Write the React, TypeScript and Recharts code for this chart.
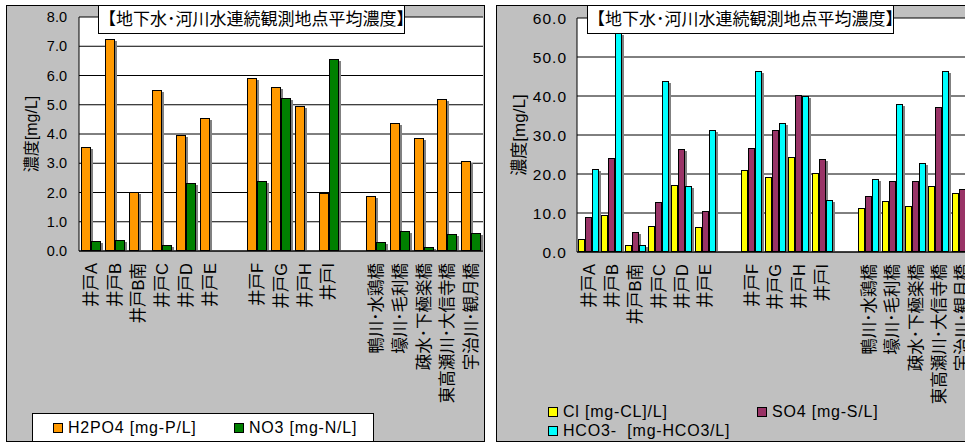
import React from 'react';
import { BarChart, Bar, XAxis, YAxis, CartesianGrid } from 'recharts';

const categories = [
  '井戸A', '井戸B', '井戸B南', '井戸C', '井戸D', '井戸E', '',
  '井戸F', '井戸G', '井戸H', '井戸I', '',
  '鴨川･水鶏橋', '壕川･毛利橋', '疎水･下極楽橋', '東高瀬川･大信寺橋', '宇治川･観月橋',
];

// left chart
const h2po4 = [3.55, 7.25, 2.03, 5.52, 3.97, 4.54, null, 5.93, 5.62, 4.97, 1.97, null, 1.87, 4.37, 3.87, 5.21, 3.06];
const no3 = [0.34, 0.37, null, 0.21, 2.33, 0.05, null, 2.39, 5.22, null, 6.55, null, 0.3, 0.7, 0.15, 0.57, 0.61];
const leftTicks = [0, 1, 2, 3, 4, 5, 6, 7, 8];

// right chart
const cl = [3.3, 9.4, 1.9, 6.7, 17.3, 6.3, null, 21.1, 19.2, 24.4, 20.3, null, 11.2, 13.2, 11.7, 17.0, 15.1];
const so4 = [9.1, 24.2, 5.2, 12.9, 26.3, 10.4, null, 26.7, 31.3, 40.3, 23.8, null, 14.3, 18.1, 18.1, 37.1, 16.1];
const hco3 = [21.2, 56.1, 1.9, 43.8, 17.0, 31.3, null, 46.4, 33.0, 40.1, 13.3, null, 18.6, 37.9, 22.7, 46.4, 25.0];
const rightTicks = [0, 10, 20, 30, 40, 50, 60];

const leftSeries = [
  { key: 'h2po4', name: 'H2PO4 [mg-P/L]', color: '#FF9900' },
  { key: 'no3', name: 'NO3 [mg-N/L]', color: '#008000' },
];
const rightSeries = [
  { key: 'cl', name: 'Cl [mg-CL]/L]', color: '#FFFF00' },
  { key: 'so4', name: 'SO4 [mg-S/L]', color: '#993366' },
  { key: 'hco3', name: 'HCO3-  [mg-HCO3/L]', color: '#00FFFF' },
];

const leftData = categories.map((name, i) => ({ name, h2po4: h2po4[i], no3: no3[i] }));
const rightData = categories.map((name, i) => ({ name, cl: cl[i], so4: so4[i], hco3: hco3[i] }));

const FONT = "'Liberation Sans', Arial, 'Noto Sans CJK JP', sans-serif";
const TITLE = '【地下水･河川水連続観測地点平均濃度】';
const Y_LABEL = '濃度[mg/L]';

const ShadowBar = (props: any) => {
  const { x, y, width, height, fill } = props;
  if (height == null || height <= 0 || isNaN(y)) return null;
  const x0 = Math.round(x);
  const y0 = Math.round(y);
  const w = Math.round(width);
  const h = Math.round(y + height) - y0;
  return (
    <g>
      <rect x={x0 + 2} y={y0 + 2} width={w} height={h - 2} fill="#808080" />
      <rect x={x0 + 0.5} y={y0 + 0.5} width={w - 1} height={h - 1} fill={fill} stroke="#000" strokeWidth={1} />
    </g>
  );
};

const CategoryTick = (props: any) => {
  const { x, y, payload } = props;
  const ty = y + 12;
  return (
    <text x={x} y={ty} transform={`rotate(-90, ${x}, ${ty})`} textAnchor="end" dy="0.36em"
      fontSize={16.5} fontFamily={FONT} fill="#000">
      {payload.value}
    </text>
  );
};

const yLabel = (cx: number, size: number) => (props: any) => {
  const { viewBox } = props;
  const cy = viewBox.y + viewBox.height / 2;
  return (
    <text x={cx} y={cy} transform={`rotate(-90, ${cx}, ${cy})`} textAnchor="middle" dy="0.36em"
      fontSize={size} fontFamily={FONT} fill="#000">
      {Y_LABEL}
    </text>
  );
};

const Panel = ({ left, width, children }: any) => (
  <div style={{
    position: 'absolute', left, top: 5, width, height: 437, boxSizing: 'border-box',
    border: '1px solid #000', background: '#C0C0C0', overflow: 'hidden',
  }}>
    {children}
  </div>
);

const TitleBox = ({ left }: { left: number }) => (
  <div style={{
    position: 'absolute', left, top: -1, width: 307, height: 29, boxSizing: 'border-box',
    border: '1px solid #000', background: '#fff', fontFamily: FONT, fontSize: 17,
    lineHeight: '27px', textAlign: 'center', whiteSpace: 'nowrap', zIndex: 2,
  }}>
    {TITLE}
  </div>
);

const LegendItem = ({ left, top, color, text }: any) => (
  <div style={{ position: 'absolute', left, top, height: 18, display: 'flex', alignItems: 'center', whiteSpace: 'pre' }}>
    <span style={{ width: 8, height: 8, border: '1px solid #000', background: color, marginRight: 5 }} />
    <span style={{ fontFamily: FONT, fontSize: 16, letterSpacing: 0.8, color: '#000' }}>{text}</span>
  </div>
);

const App = () => {
  return (
    <div style={{ position: 'absolute', left: 0, top: 0, width: 965, height: 443, overflow: 'hidden', background: '#fff' }}>
      <Panel left={6} width={479}>
        <BarChart width={477} height={435} data={leftData} barGap={0}
          margin={{ top: 11, right: 1, bottom: 0, left: 0 }}>
          <CartesianGrid vertical={false} stroke="#000" fill="#fff" />
          <XAxis dataKey="name" height={190} interval={0} tickSize={0} tickMargin={0}
            tick={<CategoryTick />} axisLine={{ stroke: '#000' }} tickLine={false} />
          <YAxis width={72} domain={[0, 8]} ticks={leftTicks} interval={0} tickLine={false}
            tickSize={0} tickMargin={12} axisLine={{ stroke: '#000' }}
            tickFormatter={(v: number) => v.toFixed(1)}
            tick={{ fontSize: 14.5, fill: '#000', fontFamily: FONT }}
            label={{ content: yLabel(24, 16) }} />
          {leftSeries.map((s) => (
            <Bar key={s.key} dataKey={s.key} name={s.name} fill={s.color} barSize={10}
              shape={<ShadowBar />} isAnimationActive={false} />
          ))}
        </BarChart>
        <TitleBox left={91} />
        <div style={{
          position: 'absolute', left: 25, top: 407, width: 342, height: 40, boxSizing: 'border-box',
          border: '1px solid #000', background: '#fff',
        }}>
          <LegendItem left={20} top={5} color={leftSeries[0].color} text={leftSeries[0].name} />
          <LegendItem left={201} top={5} color={leftSeries[1].color} text={leftSeries[1].name} />
        </div>
      </Panel>
      <Panel left={496} width={482}>
        <BarChart width={480} height={435} data={rightData} barGap={0}
          margin={{ top: 12, right: 3, bottom: 0, left: 0 }}>
          <CartesianGrid vertical={false} stroke="#000" fill="#fff" />
          <XAxis dataKey="name" height={189} interval={0} tickSize={0} tickMargin={0}
            tick={<CategoryTick />} axisLine={{ stroke: '#000' }} tickLine={false} />
          <YAxis width={80} domain={[0, 60]} ticks={rightTicks} interval={0} tickLine={false}
            tickSize={0} tickMargin={10} axisLine={{ stroke: '#000' }}
            tickFormatter={(v: number) => v.toFixed(1)}
            tick={{ fontSize: 15.5, fill: '#000', fontFamily: FONT, letterSpacing: 1 }}
            label={{ content: yLabel(22, 17) }} />
          {rightSeries.map((s) => (
            <Bar key={s.key} dataKey={s.key} name={s.name} fill={s.color} barSize={7}
              shape={<ShadowBar />} isAnimationActive={false} />
          ))}
        </BarChart>
        <TitleBox left={90} />
        <LegendItem left={51} top={397} color={rightSeries[0].color} text={rightSeries[0].name} />
        <LegendItem left={260} top={397} color={rightSeries[1].color} text={rightSeries[1].name} />
        <LegendItem left={51} top={416} color={rightSeries[2].color} text={rightSeries[2].name} />
      </Panel>
    </div>
  );
};

export default App;
